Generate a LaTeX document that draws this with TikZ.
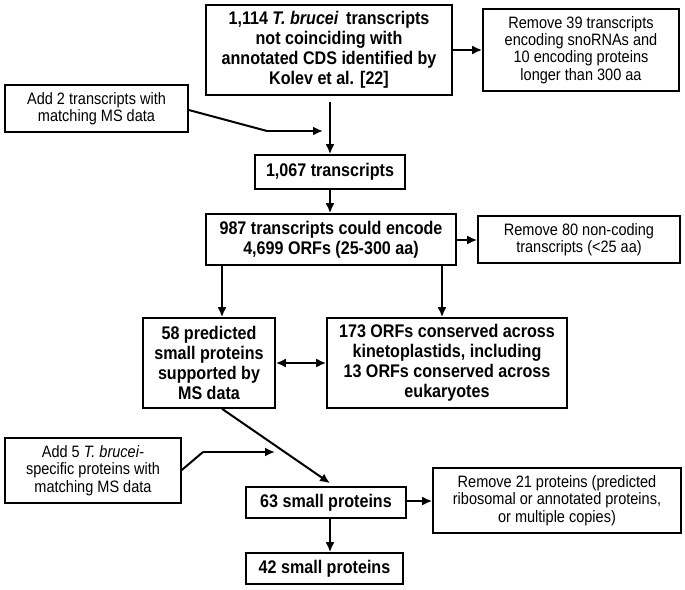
\documentclass[tikz,border=0pt]{standalone}
\usepackage{fontspec}
\setmainfont{Liberation Sans}[FakeStretch=0.88]
\usetikzlibrary{arrows.meta}
\tikzset{
  box/.style={draw, line width=1.6pt, align=center, inner sep=0pt, anchor=center},
  bbox/.style={box, font=\bfseries\fontsize{18.3}{20}\selectfont},
  rbox/.style={box, font=\fontsize{16.5}{17.3}\selectfont},
  arr/.style={line width=2pt, -{Latex[length=10pt,width=9pt]}},
  darr/.style={line width=2pt, {Latex[length=10pt,width=9pt]}-{Latex[length=10pt,width=9pt]}},
  ln/.style={line width=2pt}
}
\begin{document}
\begin{tikzpicture}[x=1pt,y=-1pt]
\useasboundingbox (0,0) rectangle (685,589);
% nodes
\node[bbox, minimum width=246pt, minimum height=90pt] (top) at (329,50)
  {1,114 \textit{T. brucei}\, transcripts\\not coinciding with\\annotated CDS identified by\\Kolev et al. [22]};
\node[rbox, minimum width=196pt, minimum height=82pt] (rem39) at (581,50)
  {Remove 39 transcripts\\encoding snoRNAs and\\10 encoding proteins\\longer than 300 aa};
\node[rbox, minimum width=183pt, minimum height=47pt] (add2) at (96.5,108.5)
  {Add 2 transcripts with\\matching MS data};
\node[bbox, minimum width=150pt, minimum height=34pt] (t1067) at (330,172)
  {1,067 transcripts};
\node[bbox, minimum width=250pt, minimum height=51pt] (t987) at (331,239.5)
  {987 transcripts could encode\\4,699 ORFs (25-300 aa)};
\node[rbox, minimum width=202pt, minimum height=47pt] (rem80) at (579,239.5)
  {Remove 80 non-coding\\transcripts (<25 aa)};
\node[bbox, minimum width=132pt, minimum height=90pt] (p58) at (209,363)
  {58 predicted\\small proteins\\supported by\\MS data};
\node[bbox, minimum width=240pt, minimum height=90pt] (o173) at (447,363)
  {173 ORFs conserved across\\kinetoplastids, including\\13 ORFs conserved across\\eukaryotes};
\node[rbox, minimum width=176pt, minimum height=65pt] (add5) at (93,470.5)
  {Add 5 \textit{T. brucei}-\\specific proteins with\\matching MS data};
\node[bbox, minimum width=160pt, minimum height=31pt] (p63) at (326,502.5)
  {63 small proteins};
\node[rbox, minimum width=248pt, minimum height=65pt] (rem21) at (557,500.5)
  {Remove 21 proteins (predicted\\ribosomal or annotated proteins,\\or multiple copies)};
\node[bbox, minimum width=157pt, minimum height=31pt] (p42) at (324.5,568.5)
  {42 small proteins};
% helper coordinates
\coordinate (xm) at (330,0);
\coordinate (xL) at (222,0);
\coordinate (xR) at (442,0);
\coordinate (y50) at (0,50);
\coordinate (y110) at (0,110);
\coordinate (y240) at (0,240);
\coordinate (y470) at (0,470);
\coordinate (y501) at (0,501);
\coordinate (k2a) at (267,131);
\coordinate (k2b) at (323,131);
\coordinate (k5a) at (203,452);
\coordinate (k5b) at (275,452);
% connectors
\draw[arr, shorten <=6pt] (top.south -| xm) -- (t1067.north -| xm);
\draw[arr] (top.east |- y50) -- (rem39.west |- y50);
\draw[ln] (add2.east |- y110) -- (k2a);
\draw[arr] (k2a) -- (k2b);
\draw[arr] (t1067.south -| xm) -- (t987.north -| xm);
\draw[arr] (t987.east |- y240) -- (rem80.west |- y240);
\draw[arr] (t987.south -| xL) -- (p58.north -| xL);
\draw[arr] (t987.south -| xR) -- (o173.north -| xR);
\draw[darr] (p58.east) -- (o173.west);
\draw[arr] (p58.south -| xL) -- ([yshift=3pt]p63.north -| xm);
\draw[ln] (add5.east |- y470) -- (k5a);
\draw[arr] (k5a) -- (k5b);
\draw[arr] (p63.east |- y501) -- (rem21.west |- y501);
\draw[arr] (p63.south -| xm) -- (p42.north -| xm);
\end{tikzpicture}
\end{document}
